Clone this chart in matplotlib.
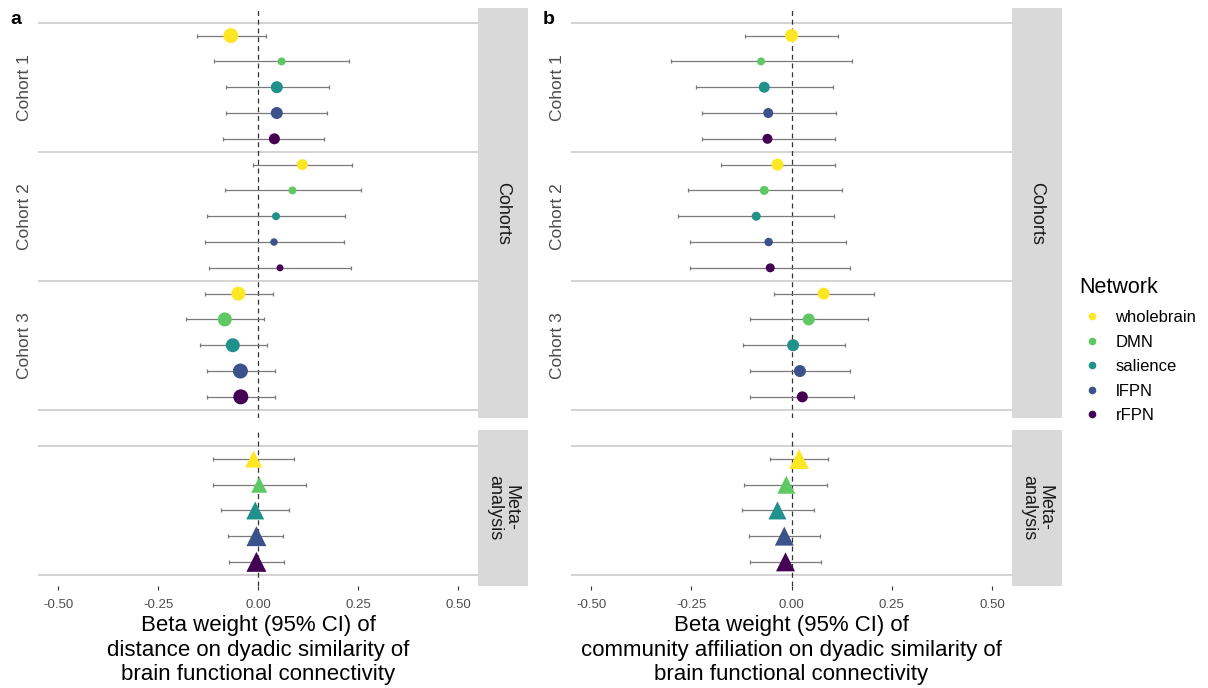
import matplotlib
matplotlib.use("Agg")
import matplotlib.pyplot as plt
from matplotlib.lines import Line2D
import numpy as np

plt.rcParams['font.family'] = ['Liberation Sans', 'DejaVu Sans']

# ---------------- data ----------------
networks = ["wholebrain", "DMN", "salience", "lFPN", "rFPN"]
net_colors = ["#FDE725", "#5EC962", "#21918C", "#3B528B", "#440154"]
cohorts = ["Cohort 1", "Cohort 2", "Cohort 3"]

# Panel a: distance
a_est = [[-0.068, 0.059, 0.047, 0.047, 0.041],
         [0.111, 0.086, 0.045, 0.040, 0.055],
         [-0.049, -0.083, -0.063, -0.044, -0.043]]
a_lo = [[-0.153, -0.111, -0.081, -0.081, -0.087],
        [-0.013, -0.083, -0.127, -0.132, -0.122],
        [-0.132, -0.181, -0.146, -0.127, -0.128]]
a_hi = [[0.020, 0.228, 0.178, 0.172, 0.166],
        [0.235, 0.258, 0.218, 0.214, 0.233],
        [0.037, 0.014, 0.023, 0.042, 0.042]]
a_wt = [[15, 8, 12, 12, 11],
        [11, 8, 8, 7.5, 7],
        [14, 14, 14, 15, 15]]
a_meta_est = [-0.011, 0.003, -0.007, -0.004, -0.004]
a_meta_lo = [-0.113, -0.113, -0.093, -0.076, -0.073]
a_meta_hi = [0.091, 0.120, 0.078, 0.063, 0.066]
a_meta_wt = [17, 16, 18, 20, 20]

# Panel b: community affiliation
b_est = [[0.000, -0.076, -0.068, -0.058, -0.060],
         [-0.035, -0.068, -0.088, -0.057, -0.053],
         [0.080, 0.043, 0.004, 0.021, 0.027]]
b_lo = [[-0.116, -0.300, -0.238, -0.224, -0.224],
        [-0.177, -0.257, -0.282, -0.252, -0.252],
        [-0.043, -0.103, -0.122, -0.103, -0.103]]
b_hi = [[0.117, 0.152, 0.103, 0.111, 0.109],
        [0.109, 0.126, 0.106, 0.136, 0.147],
        [0.206, 0.191, 0.133, 0.147, 0.155]]
b_wt = [[13, 8, 11, 10, 10],
        [12, 9, 9, 8.5, 9],
        [12, 12, 12, 12, 11]]
b_meta_est = [0.019, -0.013, -0.035, -0.018, -0.015]
b_meta_lo = [-0.054, -0.118, -0.123, -0.107, -0.103]
b_meta_hi = [0.090, 0.088, 0.056, 0.071, 0.074]
b_meta_wt = [20, 18, 18, 19, 19]

xticks = [-0.50, -0.25, 0.00, 0.25, 0.50]
xticklabels = ["-0.50", "-0.25", "0.00", "0.25", "0.50"]
xlabels = ["Beta weight (95% CI) of\ndistance on dyadic similarity of\nbrain functional connectivity",
           "Beta weight (95% CI) of\ncommunity affiliation on dyadic similarity of\nbrain functional connectivity"]

# ---------------- layout ----------------
W, H = 1208, 688
fig = plt.figure(figsize=(W / 100, H / 100), dpi=100)


def box(x0, y0, x1, y1):
    return [x0 / W, 1 - y1 / H, (x1 - x0) / W, (y1 - y0) / H]


GRID = "#D0D0D0"
ERR = "#7A7A7A"
TXT = "#4D4D4D"
STRIP = "#D9D9D9"
PX = 0.72  # points per pixel


def draw_rows(ax, est, lo, hi, wt, marker, ybase):
    for i in range(len(est)):
        y = ybase + i
        ax.errorbar([est[i]], [y], xerr=[[est[i] - lo[i]], [hi[i] - est[i]]],
                    fmt='none', ecolor=ERR, elinewidth=0.9, capsize=1.2,
                    capthick=0.9, zorder=2)
        ax.scatter([est[i]], [y], s=(wt[i] * PX) ** 2, marker=marker,
                   color=net_colors[i], edgecolors='none', zorder=3)


def style_axis(ax):
    for sp in ax.spines.values():
        sp.set_visible(False)
    ax.set_xlim(-0.55, 0.55)
    ax.axvline(0, color="#333333", lw=0.9, ls=(0, (4, 3)), zorder=1)


panels = [
    (38, 478, a_est, a_lo, a_hi, a_wt, a_meta_est, a_meta_lo, a_meta_hi, a_meta_wt, "a"),
    (571, 1012, b_est, b_lo, b_hi, b_wt, b_meta_est, b_meta_lo, b_meta_hi, b_meta_wt, "b"),
]

for pi, (x0, x1, est, lo, hi, wt, mest, mlo, mhi, mwt, letter) in enumerate(panels):
    # upper (cohorts) panel
    ax = fig.add_axes(box(x0, 8, x1, 418))
    style_axis(ax)
    for c in range(3):
        draw_rows(ax, est[c], lo[c], hi[c], wt[c], 'o', c * 5)
    for yl in [-0.5, 4.5, 9.5, 14.5]:
        ax.axhline(yl, color=GRID, lw=1.3, zorder=0)
    ax.set_ylim(14.82, -1.07)
    ax.set_yticks([2, 7, 12])
    ax.set_yticklabels(cohorts, rotation=90, va='center', fontsize=12.5, color=TXT)
    ax.tick_params(axis='y', length=0, pad=4)
    ax.set_xticks([])

    # lower (meta) panel
    axm = fig.add_axes(box(x0, 430, x1, 586))
    style_axis(axm)
    draw_rows(axm, mest, mlo, mhi, mwt, '^', 0)
    for yl in [-0.5, 4.5]:
        axm.axhline(yl, color=GRID, lw=1.3, zorder=0)
    axm.set_ylim(4.94, -1.13)
    axm.set_yticks([])
    axm.set_xticks(xticks)
    axm.set_xticklabels(xticklabels, fontsize=9.5, color=TXT)
    axm.tick_params(axis='x', length=3, width=0.8, color="#333333", pad=6)

    # strips
    s1 = fig.add_axes(box(x1, 8, x1 + 50, 418))
    s1.set_facecolor(STRIP)
    s1.set_xticks([]); s1.set_yticks([])
    for sp in s1.spines.values():
        sp.set_visible(False)
    s1.text(0.5, 0.5, "Cohorts", rotation=-90, ha='center', va='center',
            fontsize=13, color="#1A1A1A", transform=s1.transAxes)
    s2 = fig.add_axes(box(x1, 430, x1 + 50, 586))
    s2.set_facecolor(STRIP)
    s2.set_xticks([]); s2.set_yticks([])
    for sp in s2.spines.values():
        sp.set_visible(False)
    s2.text(0.5, 0.5, "Meta-\nanalysis", rotation=-90, ha='center', va='center',
            multialignment='center', fontsize=13, color="#1A1A1A",
            transform=s2.transAxes, linespacing=0.95)

    # x label
    fig.text(((x0 + x1) / 2) / W, 1 - 615 / H, xlabels[pi], ha='center', va='top',
             fontsize=16, color='black', linespacing=1.22)
    # panel letter
    fig.text((x0 - 28) / W, 1 - 20 / H, letter, ha='left', va='center',
             fontsize=14, fontweight='bold')

# legend
handles = [Line2D([0], [0], marker='o', ls='none', color=c, markersize=4.5)
           for c in net_colors]
leg = fig.legend(handles, networks, loc='upper left',
                 bbox_to_anchor=(1073 / W, 1 - 270 / H), frameon=False,
                 title="Network", title_fontsize=15.5, fontsize=12,
                 handlelength=1.5, handletextpad=0.65, labelspacing=0.57,
                 alignment='left', borderaxespad=0)
leg._legend_box.sep = 9

fig.savefig("out.png", dpi=100)
